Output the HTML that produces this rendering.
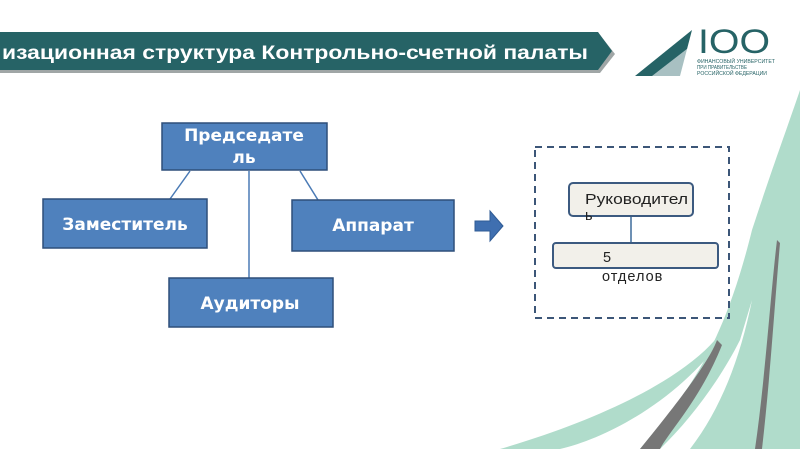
<!DOCTYPE html>
<html><head><meta charset="utf-8"><style>html,body{margin:0;padding:0;background:#fff}svg{display:block}</style></head>
<body>
<svg width="800" height="449" viewBox="0 0 800 449" xmlns="http://www.w3.org/2000/svg" font-family="'Liberation Sans','DejaVu Sans',sans-serif">
<path d="M500 449 C600 420 680 380 715 340 L705 360 C660 410 600 440 560 449 Z" fill="#b0dccb"/>
<path d="M640 449 C680 400 720 360 752 230 C775 160 790 120 800 90 L800 449 Z" fill="#b0dccb"/>
<path d="M640 449 C680 400 710 360 717 340 L722 345 C700 400 670 430 660 449 Z" fill="#777"/>
<path d="M762 449 C770 380 775 300 780 243 L777 240 C770 300 765 380 755 449 Z" fill="#777"/>
<path d="M660 449 C690 420 720 380 740 340 L752 300 C740 360 720 410 690 449 Z" fill="#fff"/>
<path d="M0 35 L600 35 L615 54 L600 73 L0 73 Z" fill="#a0a6a6"/>
<path d="M0 32 L598 32 L612 51 L598 70 L0 70 Z" fill="#266366"/>
<text x="2" y="59" fill="#fff" font-weight="bold" font-size="19" textLength="586" lengthAdjust="spacingAndGlyphs">изационная структура Контрольно-счетной палаты</text>
<path d="M635 76 L692 30 L680 76 Z" fill="#266366"/>
<path d="M652 76 L692 45 L688 76 Z" fill="#fff" opacity="0.6"/>
<text x="698" y="53" fill="#266366" font-size="34" textLength="72" lengthAdjust="spacingAndGlyphs">IOO</text>
<text x="697" y="63" fill="#266366" font-size="5" textLength="78" lengthAdjust="spacingAndGlyphs">ФИНАНСОВЫЙ УНИВЕРСИТЕТ</text>
<text x="697" y="69" fill="#266366" font-size="5" textLength="50" lengthAdjust="spacingAndGlyphs">ПРИ ПРАВИТЕЛЬСТВЕ</text>
<text x="697" y="75" fill="#266366" font-size="5" textLength="70" lengthAdjust="spacingAndGlyphs">РОССИЙСКОЙ ФЕДЕРАЦИИ</text>
<g stroke="#4a7ab5" stroke-width="1.5">
<line x1="190" y1="171" x2="170" y2="199"/>
<line x1="249" y1="171" x2="249" y2="278"/>
<line x1="300" y1="171" x2="318" y2="200"/>
</g>
<g fill="#4f81bd" stroke="#2f4f7a" stroke-width="1.5">
<rect x="162" y="123" width="165" height="47"/>
<rect x="43" y="199" width="164" height="49"/>
<rect x="292" y="200" width="162" height="51"/>
<rect x="169" y="278" width="164" height="49"/>
</g>
<g fill="#fff" font-weight="bold" font-size="17" text-anchor="middle" font-family="'DejaVu Sans','Liberation Sans',sans-serif">
<text x="244" y="141">Председате</text>
<text x="244" y="163">ль</text>
<text x="125" y="230">Заместитель</text>
<text x="373" y="231">Аппарат</text>
<text x="250" y="309">Аудиторы</text>
</g>
<path d="M475 221 L490 221 L490 211 L503 226 L490 241 L490 231 L475 231 Z" fill="#3f6fb0" stroke="#2f5b95" stroke-width="1"/>
<rect x="535" y="147" width="194" height="171" fill="none" stroke="#3c5678" stroke-width="2" stroke-dasharray="7,5"/>
<line x1="631" y1="216" x2="631" y2="243" stroke="#3c6a9a" stroke-width="1.5"/>
<rect x="569" y="183" width="124" height="33" rx="4" fill="#f2f0ea" stroke="#3c5a80" stroke-width="2"/>
<rect x="553" y="243" width="165" height="25" rx="3" fill="#f2f0ea" stroke="#3c5a80" stroke-width="2"/>
<g fill="#222" font-size="14.5">
<text x="585" y="204" textLength="103" lengthAdjust="spacingAndGlyphs">Руководител</text>
<text x="585" y="220">ь</text>
<text x="603" y="262">5</text>
<text x="602" y="281" letter-spacing="1">отделов</text>
</g>
</svg>
</body></html>
